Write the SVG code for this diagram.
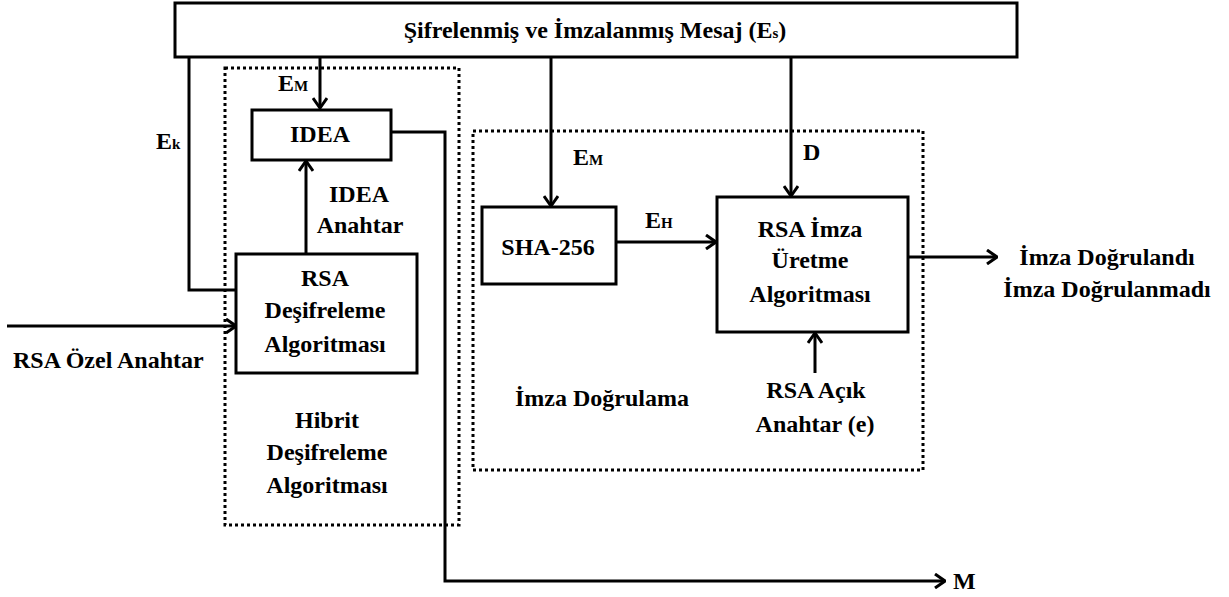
<svg xmlns="http://www.w3.org/2000/svg" width="1229" height="597" viewBox="0 0 1229 597" font-family="'Liberation Serif', 'Times New Roman', Times, serif">
  <style>
    text { font-family: "Liberation Serif", "Times New Roman", Times, serif; font-weight: bold; font-size: 24px; fill: #000; }
    .c { text-anchor: middle; }
    .sub { font-size: 15px; }
    .box { fill: #fff; stroke: #000; stroke-width: 3; }
    .dot { fill: none; stroke: #000; stroke-width: 3; stroke-dasharray: 3 3; }
    .wire { fill: none; stroke: #000; stroke-width: 3; }
  </style>
  <defs>
    <marker id="arrow" viewBox="0 0 12 16" refX="11" refY="8" markerWidth="12" markerHeight="16" markerUnits="userSpaceOnUse" orient="auto">
      <path d="M1,1 L11,8 L1,15" fill="none" stroke="#000" stroke-width="3"/>
    </marker>
  </defs>

  <rect width="1229" height="597" fill="#fff"/>

  <!-- dotted grouping frames -->
  <g id="hybrid-frame">
    <rect class="dot" x="225" y="68" width="234" height="457"/>
    <text class="c" x="327" y="428">Hibrit</text>
    <text class="c" x="327" y="460">Deşifreleme</text>
    <text class="c" x="327" y="493">Algoritması</text>
  </g>
  <g id="verify-frame">
    <rect class="dot" x="473" y="131" width="450" height="339"/>
    <text class="c" x="602" y="406">İmza Doğrulama</text>
  </g>

  <!-- connectors -->
  <g id="connectors">
    <path class="wire" d="M189,57 V290 H236"/>
    <path class="wire" d="M320,57 V108" marker-end="url(#arrow)"/>
    <path class="wire" d="M306,254 V161" marker-end="url(#arrow)"/>
    <path class="wire" d="M7,326 H236" marker-end="url(#arrow)"/>
    <path class="wire" d="M391,132 H445 V581 H945" marker-end="url(#arrow)"/>
    <path class="wire" d="M551,57 V206" marker-end="url(#arrow)"/>
    <path class="wire" d="M616,242 H716" marker-end="url(#arrow)"/>
    <path class="wire" d="M791,57 V196" marker-end="url(#arrow)"/>
    <path class="wire" d="M815,373 V333" marker-end="url(#arrow)"/>
    <path class="wire" d="M908,257 H997" marker-end="url(#arrow)"/>
  </g>

  <!-- connector labels -->
  <g id="labels">
    <text x="278" y="91">E<tspan class="sub">M</tspan></text>
    <text x="156" y="149">E<tspan class="sub">k</tspan></text>
    <text class="c" x="359" y="202">IDEA</text>
    <text class="c" x="360" y="233">Anahtar</text>
    <text x="13" y="368">RSA Özel Anahtar</text>
    <text x="573" y="165">E<tspan class="sub">M</tspan></text>
    <text x="803" y="160">D</text>
    <text x="645" y="228">E<tspan class="sub">H</tspan></text>
    <text class="c" x="816" y="398">RSA Açık</text>
    <text class="c" x="815" y="432">Anahtar (e)</text>
    <text class="c" x="1107" y="265">İmza Doğrulandı</text>
    <text class="c" x="1107" y="297">İmza Doğrulanmadı</text>
    <text x="953" y="589">M</text>
  </g>

  <!-- nodes -->
  <g id="message">
    <rect class="box" x="175" y="3" width="842" height="54"/>
    <text class="c" x="595" y="38">Şifrelenmiş ve İmzalanmış Mesaj (E<tspan class="sub">s</tspan>)</text>
  </g>
  <g id="idea">
    <rect class="box" x="252" y="110" width="139" height="50"/>
    <text class="c" x="320" y="142">IDEA</text>
  </g>
  <g id="rsa-decrypt">
    <rect class="box" x="236" y="254" width="181" height="119"/>
    <text class="c" x="325" y="286">RSA</text>
    <text class="c" x="325" y="318">Deşifreleme</text>
    <text class="c" x="325" y="352">Algoritması</text>
  </g>
  <g id="sha256">
    <rect class="box" x="482" y="207" width="134" height="77"/>
    <text class="c" x="548" y="255">SHA-256</text>
  </g>
  <g id="rsa-sign">
    <rect class="box" x="717" y="197" width="191" height="135"/>
    <text class="c" x="810" y="237">RSA İmza</text>
    <text class="c" x="810" y="268">Üretme</text>
    <text class="c" x="810" y="302">Algoritması</text>
  </g>
</svg>
